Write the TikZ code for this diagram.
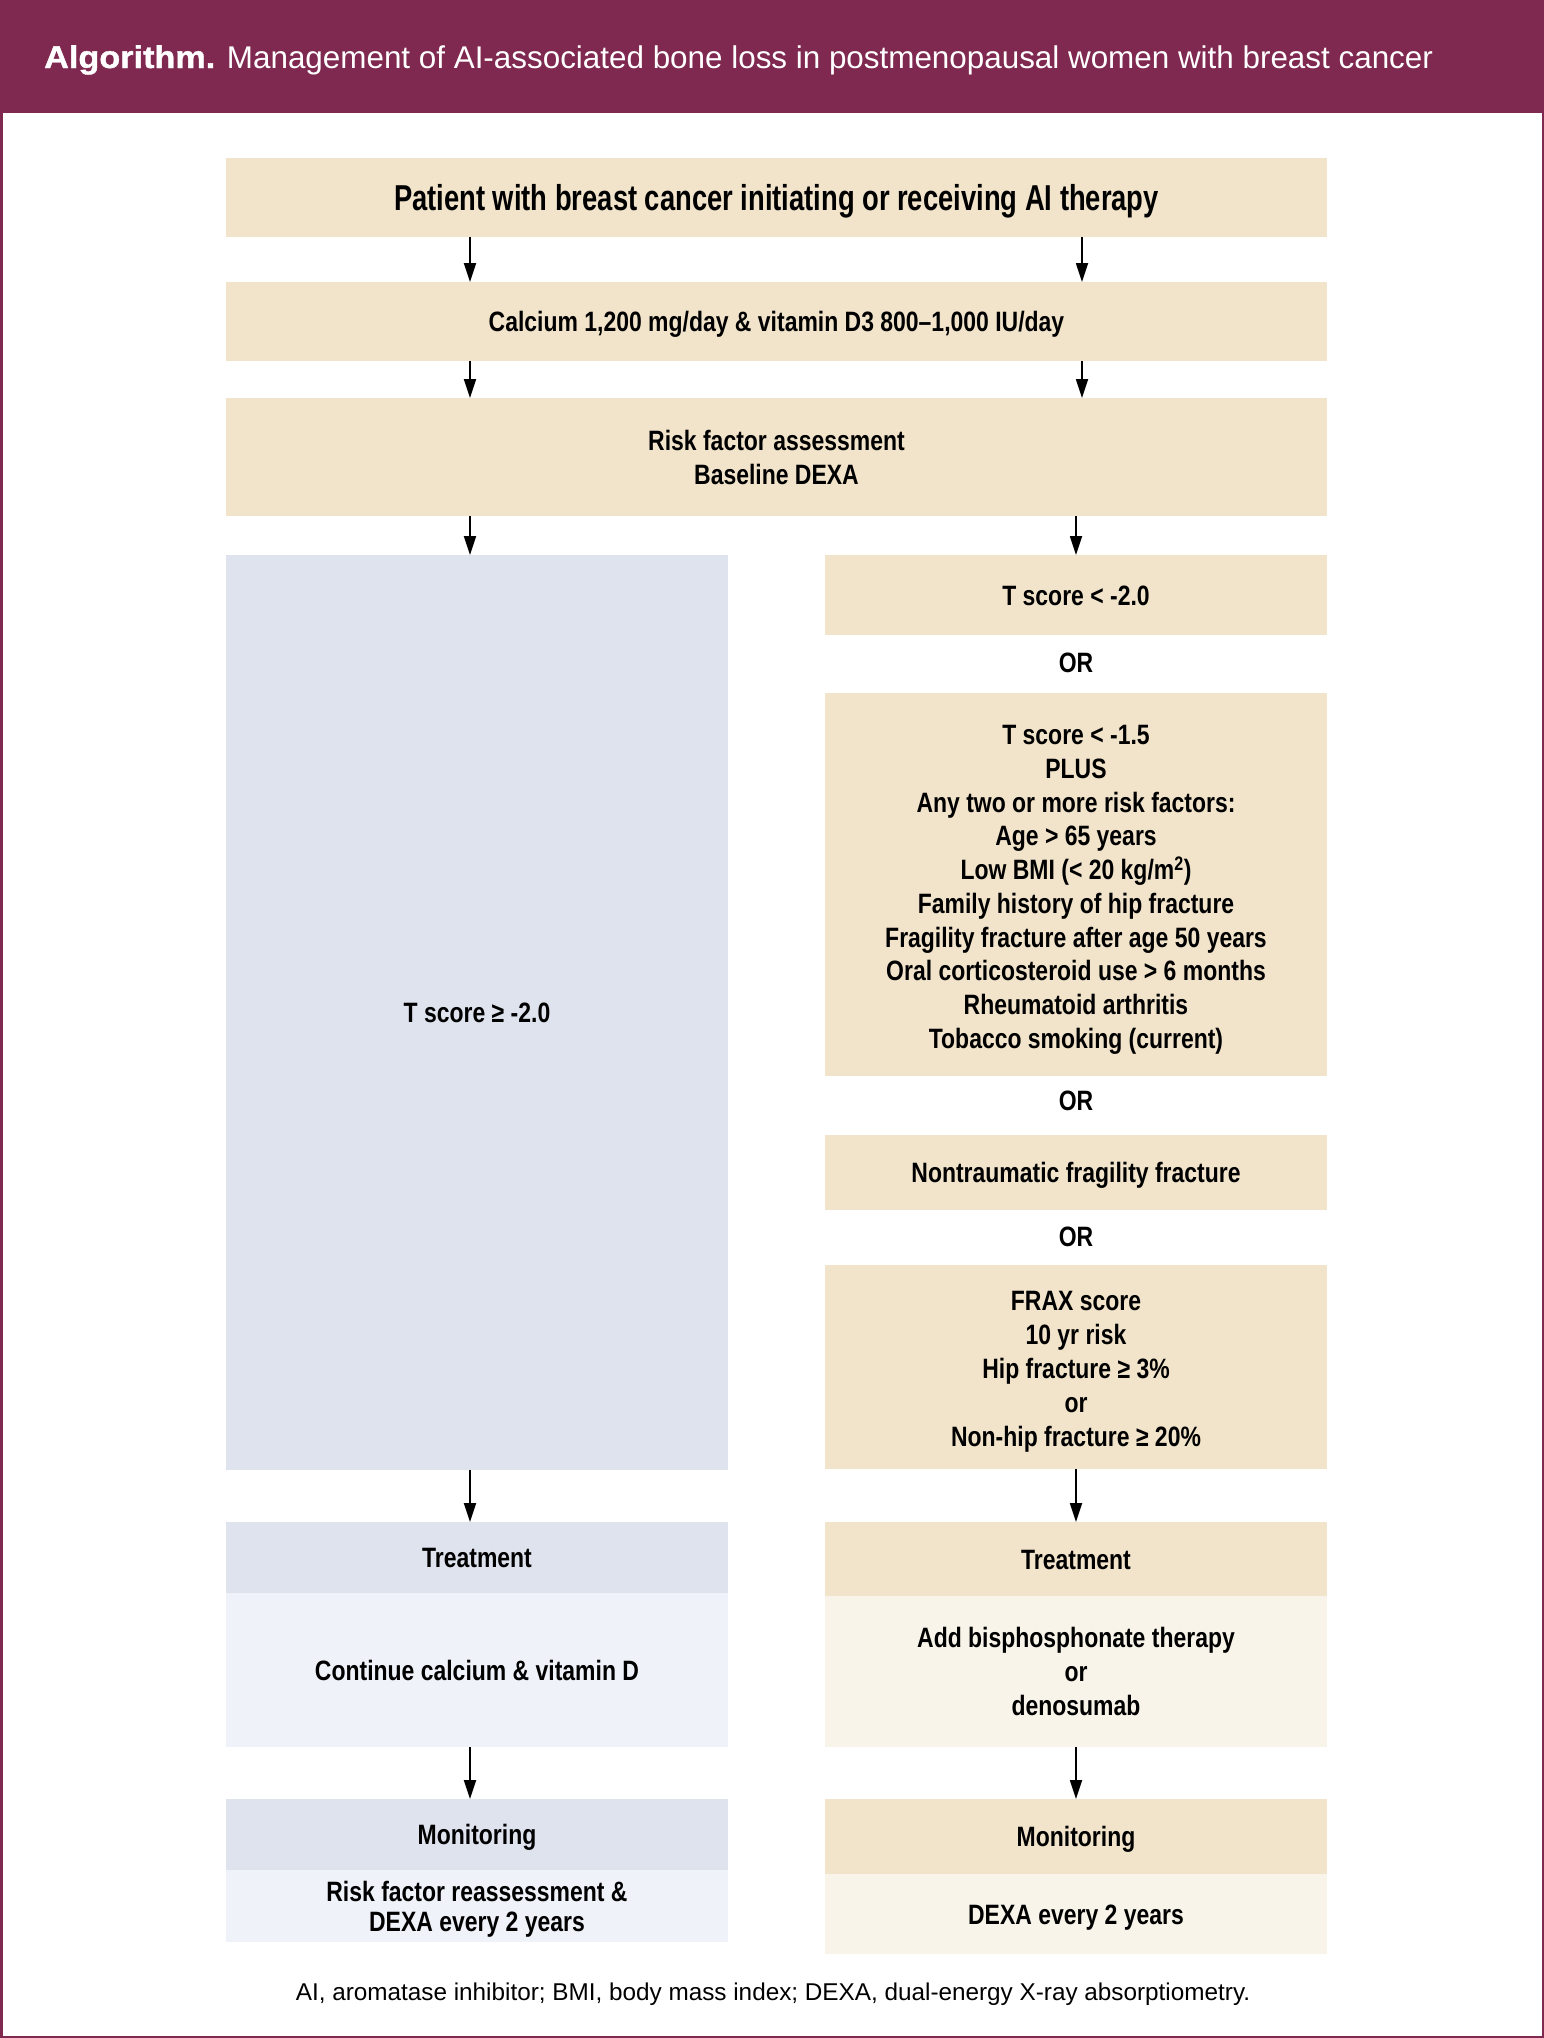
\documentclass[tikz,border=0pt]{standalone}
\usepackage{fontspec}
\setmainfont{Liberation Sans}
\newfontfamily\cnd[FakeStretch=0.82]{Liberation Sans Bold}
\newfontfamily\cndbig[FakeStretch=0.76]{Liberation Sans Bold}
\newfontfamily\titleb[FakeStretch=1.09, FakeBold=1.2]{Liberation Sans Bold}
\usetikzlibrary{arrows.meta}
\definecolor{purp}{RGB}{127,41,80}
\definecolor{tan}{RGB}{242,228,203}
\definecolor{ltan}{RGB}{248,244,234}
\definecolor{blu}{RGB}{223,227,238}
\definecolor{lblu}{RGB}{239,242,248}
\tikzset{
  box/.style={inner sep=0pt, outer sep=0pt, align=center, font=\cnd\fontsize{28}{34}\selectfont},
  one/.style={text height=20pt, text depth=0pt},
  tanbox/.style={box, fill=tan},
  ltanbox/.style={box, fill=ltan},
  blubox/.style={box, fill=blu},
  lblubox/.style={box, fill=lblu},
  fullw/.style={minimum width=1101pt},
  colw/.style={minimum width=502pt},
  ortext/.style={inner sep=0pt, one, font=\cnd\fontsize{28}{34}\selectfont},
  arr/.style={-{Triangle[length=19pt,width=12pt]}, line width=1.8pt, black},
}
\begin{document}
\begin{tikzpicture}[x=1pt,y=-1pt]
\useasboundingbox (0,0) rectangle (1544,2038);
% frame and title bar
\fill[purp] (0,0) rectangle (1544,113);
\draw[purp, line width=2.5pt] (1.25,1.25) rectangle (1542.75,2036.75);
\node[anchor=base west, inner sep=0pt, text=white, font=\fontsize{31.4}{36}\selectfont] (title) at (44,68)
  {{\titleb Algorithm.} Management of AI-associated bone loss in postmenopausal women with breast cancer};
% column x positions for arrows
\coordinate (xl) at (470,0);
\coordinate (xr) at (1082,0);
\coordinate (xr2) at (1076,0);
% top boxes
\node[tanbox, fullw, minimum height=79pt, text height=25pt, text depth=0pt, font=\cndbig\fontsize{36}{40}\selectfont] (b1) at (776.5,197.5)
  {Patient with breast cancer initiating or receiving AI therapy};
\node[tanbox, one, fullw, minimum height=79pt] (b2) at (776.5,321.5)
  {Calcium 1,200 mg/day \& vitamin D3 800–1,000 IU/day};
\node[tanbox, fullw, minimum height=118pt] (b3) at (776.5,457)
  {Risk factor assessment\\Baseline DEXA};
% left column
\node[blubox, one, colw, minimum height=915pt] (L) at (477,1012.5) {T score ≥ -2.0};
% right column
\node[tanbox, one, colw, minimum height=80pt] (R1) at (1076,595) {T score < -2.0};
\node[ortext] (or1) at (1076,662) {OR};
\node[tanbox, colw, minimum height=383pt, font=\cnd\fontsize{28}{33.7}\selectfont] (R2) at (1076,884.5)
  {\rule{0pt}{30pt}T score < -1.5\\PLUS\\Any two or more risk factors:\\Age > 65 years\\Low BMI (< 20 kg/m\textsuperscript{2})\\Family history of hip fracture\\Fragility fracture after age 50 years\\Oral corticosteroid use > 6 months\\Rheumatoid arthritis\\Tobacco smoking (current)};
\node[ortext] (or2) at (1076,1100) {OR};
\node[tanbox, one, colw, minimum height=75pt] (R3) at (1076,1172.5) {Nontraumatic fragility fracture};
\node[ortext] (or3) at (1076,1236) {OR};
\node[tanbox, colw, minimum height=204pt] (R4) at (1076,1367)
  {\rule{0pt}{29pt}FRAX score\\10 yr risk\\Hip fracture ≥ 3\%\\or\\Non-hip fracture ≥ 20\%};
% treatment
\node[blubox, one, colw, minimum height=71pt] (LT) at (477,1557.5) {Treatment};
\node[lblubox, one, colw, minimum height=154pt] (LC) at (477,1670) {Continue calcium \& vitamin D};
\node[tanbox, one, colw, minimum height=74pt] (RT) at (1076,1559) {Treatment};
\node[ltanbox, colw, minimum height=151pt] (RC) at (1076,1671.5) {Add bisphosphonate therapy\\or\\denosumab};
% monitoring
\node[blubox, one, colw, minimum height=71pt] (LM) at (477,1834.5) {Monitoring};
\node[lblubox, colw, minimum height=72pt, font=\cnd\fontsize{28}{30}\selectfont] (LD) at (477,1906) {\rule{0pt}{26pt}Risk factor reassessment \&\\DEXA every 2 years};
\node[tanbox, one, colw, minimum height=75pt] (RM) at (1076,1836.5) {Monitoring};
\node[ltanbox, one, colw, minimum height=80pt] (RD) at (1076,1914) {DEXA every 2 years};
% footer
\node[inner sep=0pt, text height=17pt, text depth=0pt, font=\fontsize{24.3}{28}\selectfont] (foot) at (773,1992)
  {AI, aromatase inhibitor; BMI, body mass index; DEXA, dual-energy X-ray absorptiometry.};
% arrows
\draw[arr] (b1.south -| xl) -- (b2.north -| xl);
\draw[arr] (b1.south -| xr) -- (b2.north -| xr);
\draw[arr] (b2.south -| xl) -- (b3.north -| xl);
\draw[arr] (b2.south -| xr) -- (b3.north -| xr);
\draw[arr] (b3.south -| xl) -- (L.north -| xl);
\draw[arr] (b3.south -| xr2) -- (R1.north -| xr2);
\draw[arr] (L.south -| xl) -- (LT.north -| xl);
\draw[arr] (R4.south -| xr2) -- (RT.north -| xr2);
\draw[arr] (LC.south -| xl) -- (LM.north -| xl);
\draw[arr] (RC.south -| xr2) -- (RM.north -| xr2);
\end{tikzpicture}
\end{document}
